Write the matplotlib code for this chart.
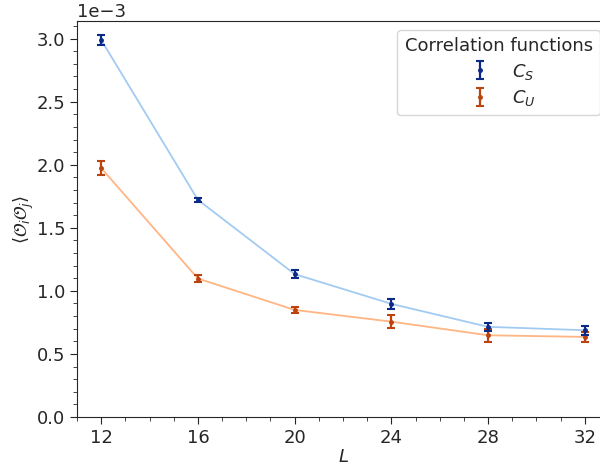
import numpy as np
import matplotlib
matplotlib.use("Agg")
import matplotlib.pyplot as plt
import seaborn as sns
from matplotlib.ticker import AutoMinorLocator

sns.set_style("ticks")
plt.rcParams['font.family'] = ['DejaVu Sans']
plt.rcParams['font.size'] = 13

# lattice sizes and measured correlators (units of 1e-3)
L = [12, 16, 20, 24, 28, 32]
c_s = [2.99, 1.722, 1.133, 0.897, 0.715, 0.688]
c_s_err = [0.04, 0.015, 0.03, 0.04, 0.03, 0.035]
c_u = [1.974, 1.098, 0.849, 0.756, 0.648, 0.635]
c_u_err = [0.052, 0.03, 0.025, 0.05, 0.05, 0.04]

scale = 1e-3

fig = plt.figure(figsize=(6.0, 4.68), dpi=100)
ax = fig.add_axes([77 / 600, 51 / 468, 532 / 600, 396 / 468])

# connecting lines, then points with error bars on top
ax.plot(L, np.array(c_s) * scale, color='#a3cbf2', lw=1.3, zorder=1)
ax.plot(L, np.array(c_u) * scale, color='#ffb584', lw=1.3, zorder=1)
ax.errorbar(L, np.array(c_s) * scale, yerr=np.array(c_s_err) * scale, fmt='.',
            color='#0b2a87', ms=5, capsize=3, elinewidth=1.6, capthick=1.5,
            label=r'$C_S$', zorder=3)
ax.errorbar(L, np.array(c_u) * scale, yerr=np.array(c_u_err) * scale, fmt='.',
            color='#bb430f', ms=5, capsize=3, elinewidth=1.6, capthick=1.5,
            label=r'$C_U$', zorder=2)

ax.set_xlim(11, 33)
ax.set_ylim(0, 3.14e-3)
ax.set_xticks(L)
ax.xaxis.set_minor_locator(AutoMinorLocator(4))
ax.yaxis.set_minor_locator(AutoMinorLocator(5))
ax.ticklabel_format(axis='y', style='sci', scilimits=(-3, -3))
ax.tick_params(which='major', length=5, labelsize=13)
ax.tick_params(which='minor', length=3)

ax.set_xlabel(r'$L$', fontsize=13, labelpad=1)
ax.set_ylabel(r'$\langle \mathcal{O}_i \mathcal{O}_j \rangle$', fontsize=13, labelpad=0)

ax.legend(title='Correlation functions', loc='upper right', fontsize=13,
          title_fontsize=13, borderaxespad=0.5, labelspacing=0.35)

fig.savefig('out.png', dpi=100)
